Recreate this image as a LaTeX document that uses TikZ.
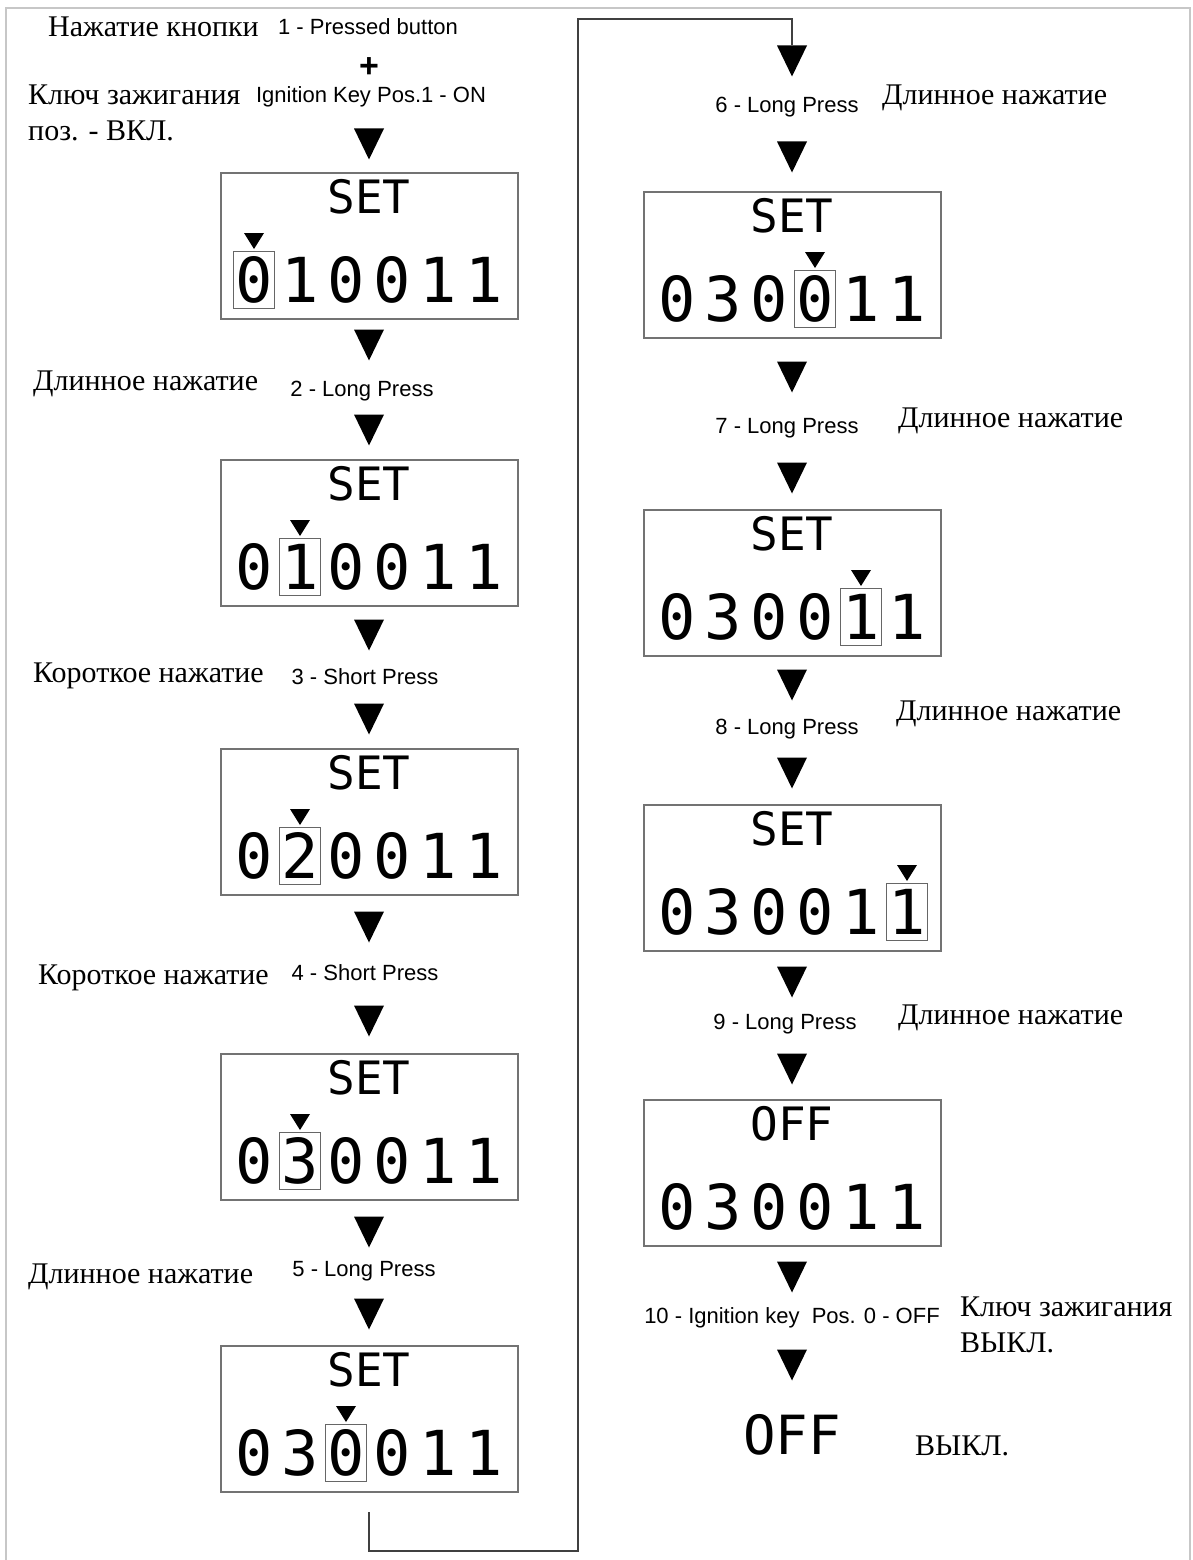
\documentclass[tikz,border=0pt]{standalone}
\usepackage{fontspec}
\setmainfont{Liberation Serif}
\newfontfamily\labelfont{Liberation Sans}
\newfontfamily\lcdfont[Numbers=SlashedZero]{DejaVu Sans Mono}

\tikzset{
  wedge/.style={inner sep=0pt,
    path picture={\fill[black] (path picture bounding box.north west)
      -- (path picture bounding box.north east)
      -- (path picture bounding box.south) -- cycle;}},
  tri/.style={wedge, minimum width=30pt, minimum height=31pt},
  pointer/.style={wedge, minimum width=20pt, minimum height=16pt},
  lcd/.style={draw=black!55, line width=2pt, minimum width=297pt,
    minimum height=146pt, inner sep=0pt},
  selbox/.style={draw=black!60, line width=1.5pt, minimum width=41pt,
    minimum height=57pt, inner sep=0pt},
  lcdtitle/.style={font=\lcdfont\fontsize{46}{50}\selectfont, inner sep=0pt,
    text height=33.5pt, text depth=0pt},
  digit/.style={font=\lcdfont\fontsize{62}{70}\selectfont, inner sep=0pt,
    text height=45pt, text depth=0pt},
  ru/.style={font=\fontsize{30}{36}\selectfont, anchor=west, inner sep=0pt,
    text height=20pt, text depth=0pt},
  en/.style={font=\labelfont\fontsize{22}{26}\selectfont, inner sep=0pt,
    text height=16pt, text depth=0pt},
  outerframe/.style={draw=black!22, line width=2pt},
  wire/.style={draw=black!75, line width=2.5pt}
}

\begin{document}
\begin{tikzpicture}[x=1pt,y=-1pt]
\useasboundingbox (0,0) rectangle (1193,1560);
\draw[outerframe] (6,1560) -- (6,8) -- (1190,8) -- (1190,1560);

% displays: number/x/top/title/second digit/selected digit
\foreach \n/\x/\y/\ttl/\dg/\sel in {1/369/173/SET/1/0, 2/369/460/SET/1/1,
    3/369/749/SET/2/1, 4/369/1054/SET/3/1, 5/369/1346/SET/3/2,
    6/792/192/SET/3/3, 7/792/510/SET/3/4, 8/792/805/SET/3/5,
    9/792/1100/OFF/3/-1}{
  \node[lcd] (lcd\n) at (\x,{\y+73}) {};
  \node[lcdtitle] (lcd\n-t) at (\x,{\y+24}) {\ttl};
  \foreach \c [count=\i from 0] in {0,\dg,0,0,1,1}
    \node[digit] (lcd\n-\i) at ({\x+(\i-2.5)*46},{\y+107}) {\c};
  \ifnum\sel>-1
    \node[selbox] (lcd\n-s) at (lcd\n-\sel) {};
    \node[pointer] (lcd\n-p) at ({\x+(\sel-2.5)*46},{\y+68}) {};
  \fi
}

% arrows
\foreach \n/\x/\y in {a1/369/144, a2/369/345, a3/369/430, a4/369/635,
    a5/369/719, a6/369/927, a7/369/1021, a8/369/1232, a9/369/1314,
    b1/792/61, b2/792/157, b3/792/377, b4/792/478, b5/792/685,
    b6/792/773, b7/792/982, b8/792/1069, b9/792/1277, b10/792/1365}
  \node[tri] (\n) at (\x,\y) {};

% english labels
\foreach \n/\x/\y/\txt in {e1/368/27/1 - Pressed button,
    e2/371/95/Ignition Key Pos.1 - ON, e3/362/388/2 - Long Press,
    e4/365/676/3 - Short Press, e5/365/972/4 - Short Press,
    e6/364/1268/5 - Long Press, e7/787/105/6 - Long Press,
    e8/787/425/7 - Long Press, e9/787/726/8 - Long Press,
    e10/785/1021/9 - Long Press}
  \node[en] (\n) at (\x,\y) {\txt};
\node[en] (e11) at (792,1315) {10 - Ignition key\ \ Pos. 0 - OFF};
\node[en, font=\labelfont\bfseries\fontsize{34}{40}\selectfont,
  text height=24pt] (plus) at (369,66) {+};

% russian labels
\foreach \n/\x/\y/\txt in {r1/48/27/Нажатие кнопки,
    r2/28/95/Ключ зажигания, r3/28/130/поз. - ВКЛ.,
    r4/33/380/Длинное нажатие, r5/33/672/Короткое нажатие,
    r6/38/974/Короткое нажатие, r7/28/1273/Длинное нажатие,
    r8/882/95/Длинное нажатие, r9/898/417/Длинное нажатие,
    r10/896/710/Длинное нажатие, r11/898/1014/Длинное нажатие,
    r12/960/1306/Ключ зажигания, r13/960/1342/ВЫКЛ.,
    r14/915/1445/ВЫКЛ.}
  \node[ru] (\n) at (\x,\y) {\txt};

\node[lcdtitle, font=\lcdfont\fontsize{54}{60}\selectfont, text height=39.5pt]
  (off) at (792,1435) {OFF};

% jump to second column
\coordinate (lb) at (578,1551);
\coordinate (lt) at (578,19);
\draw[wire] ([yshift=-19pt]lcd5.south) |- (lb) -- (lt) -| (b1.north);
\end{tikzpicture}
\end{document}
